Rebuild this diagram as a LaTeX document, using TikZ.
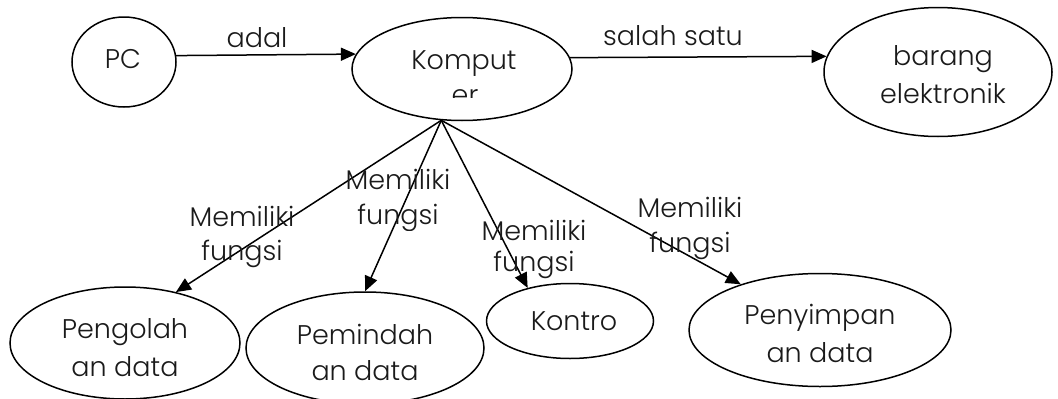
\documentclass[tikz,border=0pt]{standalone}
\usepackage{fontspec}
\setmainfont{Poppins Light}
\usetikzlibrary{shapes.geometric,arrows.meta}
\definecolor{ink}{HTML}{1A1A1A}
\tikzset{
  bubble/.style={draw, ellipse, line width=1.5pt, inner sep=0pt},
  txt/.style={anchor=base, inner sep=0pt, text=ink, font=\fontsize{27}{33}\selectfont},
  link/.style={line width=1.5pt, -{Triangle[length=15pt,width=13pt]}}
}
\begin{document}
\begin{tikzpicture}[x=1pt,y=-1pt]
\useasboundingbox (0,0) rectangle (1058,399);

% concept bubbles
\node[bubble, minimum width=104pt, minimum height=90pt]  (pc)   at (124,62)  {};
\node[bubble, minimum width=220pt, minimum height=103pt] (komp) at (462,69)  {};
\node[bubble, minimum width=228pt, minimum height=129pt] (elek) at (938,72)  {};
\node[bubble, minimum width=230pt, minimum height=112pt] (olah) at (125,343) {};
\node[bubble, minimum width=238pt, minimum height=112pt] (pind) at (365,348) {};
\node[bubble, minimum width=167pt, minimum height=75pt]  (kont) at (570,321) {};
\node[bubble, minimum width=262pt, minimum height=113pt] (simp) at (820,330) {};

% bubble texts
\node[txt] (tpc) at (123,68) {PC};
\node[txt] (tkomp) at (464,69) {Komput};
\begin{scope}
  \clip (350,17) rectangle (575,97.5);
  \node[txt] (tkomp2) at (465,104) {er};
\end{scope}
\node[txt] (telek1) at (943,65)  {barang};
\node[txt] (telek2) at (943,103) {elektronik};
\node[txt] (tolah1) at (125,338) {Pengolah};
\node[txt] (tolah2) at (125,376) {an data};
\node[txt] (tpind1) at (365,344) {Pemindah};
\node[txt] (tpind2) at (365,380) {an data};
\node[txt] (tkont)  at (574,330) {Kontro};
\node[txt] (tsimp1) at (820,324) {Penyimpan};
\node[txt] (tsimp2) at (820,362) {an data};

% relations
\draw[link] (pc.7.8) -- (komp.172.5);
\draw[link] (komp.6.4) -- (elek.172.3);
\draw[link] (komp.248.6) -- (olah.45);
\draw[link] (komp.248.6) -- (pind.north);
\draw[link] (komp.248.6) -- (kont.142);
\draw[link] (komp.248.6) -- (simp.150);

% relation labels
\node[txt] (ladal) at (257,47) {adal};
\node[txt] (lsat)  at (673,45) {salah satu};
\node[txt] (l1a) at (242,226) {Memiliki};
\node[txt] (l1b) at (242,260) {fungsi};
\node[txt] (l2a) at (398,189) {Memiliki};
\begin{scope}
  \clip (330,195) rectangle (470,230);
  \node[txt] (l2b) at (398,224) {fungsi};
\end{scope}
\node[txt] (l3a) at (534,240) {Memiliki};
\node[txt] (l3b) at (534,271) {fungsi};
\node[txt] (l4a) at (690,217) {Memiliki};
\node[txt] (l4b) at (690,252) {fungsi};
\end{tikzpicture}
\end{document}
